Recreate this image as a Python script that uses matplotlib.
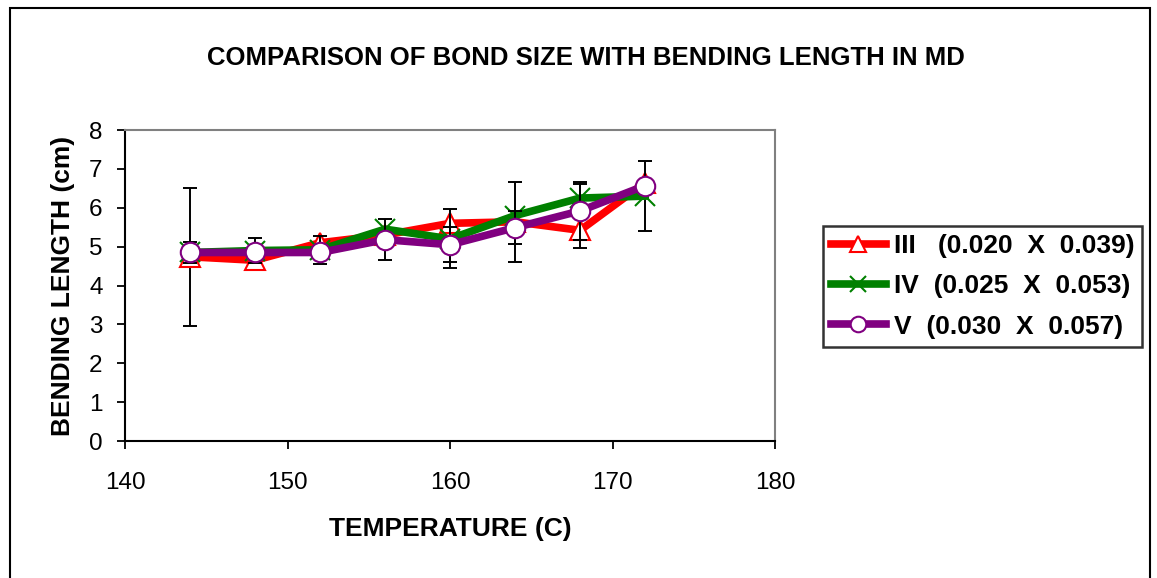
import matplotlib.pyplot as plt
import matplotlib.patches as mpatches
import numpy as np

plt.rcParams['font.family'] = ['Liberation Sans', 'DejaVu Sans']

# data
temperature = [144, 148, 152, 156, 160, 164, 168, 172]
labels = ["III   (0.020  X  0.039)", "IV  (0.025  X  0.053)", "V  (0.030  X  0.057)"]
len_iii = [4.74, 4.65, 5.1, 5.3, 5.6, 5.64, 5.42, 6.65]
len_iv = [4.85, 4.9, 4.92, 5.45, 5.2, 5.8, 6.25, 6.3]
len_v = [4.85, 4.85, 4.85, 5.18, 5.05, 5.49, 5.92, 6.57]
nan = np.nan
err_iii = [1.78, nan, nan, nan, nan, 1.03, 0.45, nan]
err_iv = [nan, 0.33, 0.36, nan, 0.76, nan, 0.37, 0.9]
err_v = [0.27, nan, nan, 0.53, 0.45, 0.43, 0.74, nan]

fig = plt.figure(figsize=(11.57, 5.78), dpi=100)
ax = fig.add_axes([0.108, 0.237, 0.562, 0.538])

# outer chart border
fig.patches.append(mpatches.Rectangle((10 / 1157, -0.05), 1140 / 1157, 1 - 8 / 578 + 0.05,
                                      transform=fig.transFigure, fill=False,
                                      edgecolor="black", lw=1.5))

styles = [
    (len_iii, err_iii, "#ff0000", "^", dict(markerfacecolor="white", markeredgecolor="#ff0000",
                                             markeredgewidth=1.5, markersize=15)),
    (len_iv, err_iv, "#008000", "x", dict(markeredgecolor="#008000", markeredgewidth=1.5,
                                           markersize=15)),
    (len_v, err_v, "#800080", "o", dict(markerfacecolor="white", markeredgecolor="#800080",
                                         markeredgewidth=1.5, markersize=14)),
]

handles = []
for i, (vals, errs, col, mk, mkw) in enumerate(styles):
    ax.errorbar(temperature, vals, yerr=errs, fmt="none", ecolor="black",
                elinewidth=1.4, capsize=5, capthick=1.4, zorder=2 + i * 2)
    h, = ax.plot(temperature, vals, color=col, lw=5.5, marker=mk, zorder=3 + i * 2,
                 label=labels[i], **mkw)
    handles.append(h)

ax.set_xlim(140, 180)
ax.set_ylim(0, 8)
ax.set_xticks(np.arange(140, 181, 10))
ax.set_yticks(np.arange(0, 9, 1))
ax.tick_params(axis="both", direction="out", length=6, width=1.3, labelsize=17.5, colors="black")
ax.tick_params(axis="x", pad=16)
ax.tick_params(axis="y", pad=10)

for s in ["left", "bottom"]:
    ax.spines[s].set_color("black")
    ax.spines[s].set_linewidth(1.5)
for s in ["top", "right"]:
    ax.spines[s].set_color("#808080")
    ax.spines[s].set_linewidth(1.5)

ax.set_xlabel("TEMPERATURE (C)", fontsize=19, fontweight="bold", labelpad=17)
ax.set_ylabel("BENDING LENGTH (cm)", fontsize=19, fontweight="bold", labelpad=10)
fig.text(0.506, 0.9, "COMPARISON OF BOND SIZE WITH BENDING LENGTH IN MD",
         ha="center", va="center", fontsize=18.5, fontweight="bold")

leg = fig.legend(handles=handles, loc="upper left", bbox_to_anchor=(0.711, 0.609),
                 prop=dict(size=19, weight="bold"), frameon=True, fancybox=False,
                 handlelength=2.1, borderpad=0.3, labelspacing=0.62, handletextpad=0.3,
                 borderaxespad=0, markerscale=0.8)
leg.get_frame().set_edgecolor("black")
leg.get_frame().set_linewidth(1.8)

fig.savefig("out.png", dpi=100)
